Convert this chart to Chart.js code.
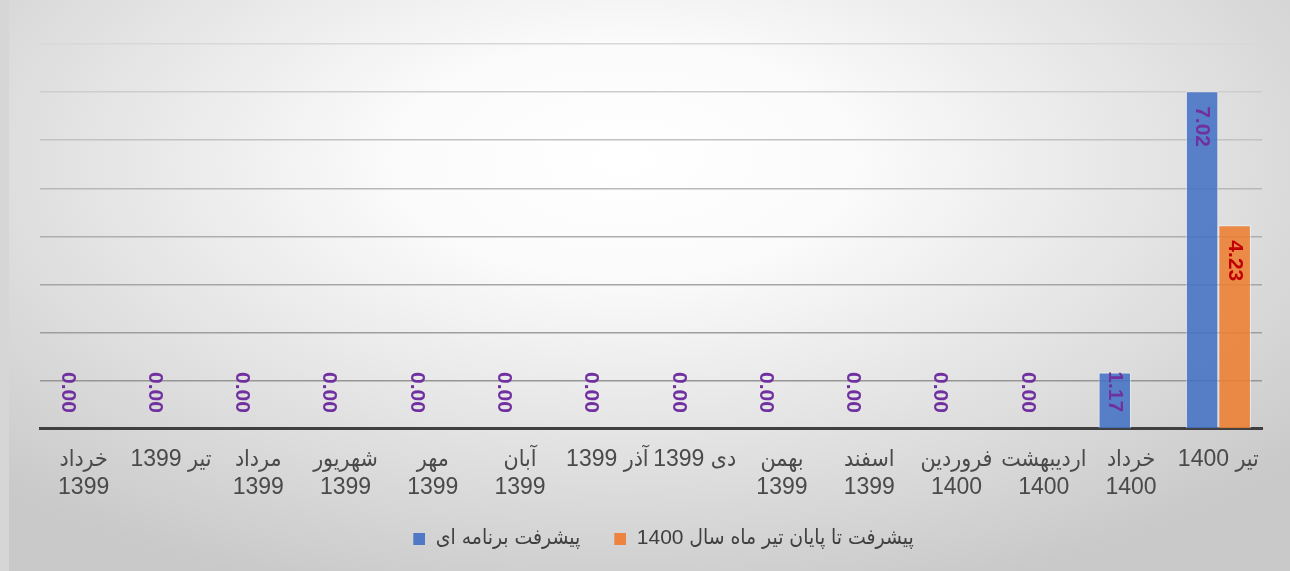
<!DOCTYPE html>
<html>
<head>
<meta charset="utf-8">
<script src="https://cdn.jsdelivr.net/npm/chart.js@4/dist/chart.umd.min.js"></script>
<style>
  html, body { margin: 0; padding: 0; background: #d6d6d6; }
  #box {
    position: absolute; left: 9px; top: 0; width: 1281px; height: 571px;
    background: radial-gradient(ellipse 70% 80% at 48% 28%, #ffffff 0%, #fbfbfb 25%, #e4e4e4 60%, #c9c9c9 100%);
  }
</style>
</head>
<body>
<div id="box"><canvas id="chart" dir="rtl" width="1281" height="571"></canvas></div>
<script>
const categories = [
  ['خرداد', '1399'], 'تیر 1399', ['مرداد', '1399'], ['شهریور', '1399'], ['مهر', '1399'],
  ['آبان', '1399'], 'آذر 1399', 'دی 1399', ['بهمن', '1399'], ['اسفند', '1399'],
  ['فروردین', '1400'], ['اردیبهشت', '1400'], ['خرداد', '1400'], 'تیر 1400'
];
const planned = [0, 0, 0, 0, 0, 0, 0, 0, 0, 0, 0, 0, 1.17, 7.02];
const actual = [null, null, null, null, null, null, null, null, null, null, null, null, null, 4.23];
const yTicks = [0, 1, 2, 3, 4, 5, 6, 7, 8];

const FONT = "'Liberation Sans', 'DejaVu Sans Condensed', 'DejaVu Sans', Arial, sans-serif";
const swatchColors = ['#4f78c6', '#ec8440'];

// legend square with empty room on its left, to widen the gap between items
function legendSwatch(color) {
  const c = document.createElement('canvas');
  c.width = 37;
  c.height = 12;
  const g = c.getContext('2d');
  g.fillStyle = color;
  g.fillRect(25, 0, 12, 12);
  return c;
}

// rotated value labels, drawn near the top of each bar
const valueLabels = {
  id: 'valueLabels',
  afterDatasetsDraw(chart) {
    const ctx = chart.ctx;
    chart.data.datasets.forEach((ds, i) => {
      const meta = chart.getDatasetMeta(i);
      meta.data.forEach((bar, j) => {
        const v = ds.data[j];
        if (v === null || v === undefined) return;
        const text = v.toFixed(2);
        ctx.save();
        ctx.font = 'bold 21px ' + FONT;
        const w = ctx.measureText(text).width;
        const top = Math.min(bar.y + 15, bar.base - 16 - w);
        ctx.translate(bar.x, top);
        ctx.rotate(Math.PI / 2);
        ctx.fillStyle = ds.labelColor;
        ctx.textAlign = 'left';
        ctx.textBaseline = 'middle';
        ctx.fillText(text, 0, 0);
        ctx.restore();
      });
    });
  }
};

const gridShade = ['#969696', '#969696', '#9e9e9e', '#a6a6a6', '#aeaeae', '#b8b8b8', '#c2c2c2', '#cdcdcd', '#d8d8d8'];

new Chart(document.getElementById('chart'), {
  type: 'bar',
  data: {
    labels: categories,
    datasets: [
      {
        label: 'پیشرفت برنامه ای',
        data: planned,
        backgroundColor: 'rgba(68,114,196,0.88)',
        borderColor: 'rgba(255,255,255,0.6)',
        borderWidth: 1,
        labelColor: '#7030A0'
      },
      {
        label: 'پیشرفت تا پایان تیر ماه سال 1400',
        data: actual,
        backgroundColor: 'rgba(237,125,49,0.88)',
        borderColor: 'rgba(255,255,255,0.6)',
        borderWidth: 1,
        labelColor: '#C00000'
      }
    ]
  },
  options: {
    responsive: false,
    animation: false,
    layout: { padding: { left: 31, right: 28, top: 44, bottom: 12 } },
    datasets: { bar: { categoryPercentage: 0.745, barPercentage: 1 } },
    scales: {
      x: {
        grid: { display: false, drawTicks: false },
        border: { color: '#404040', width: 3 },
        ticks: {
          color: '#4a4a4a',
          font: { family: FONT, size: 23, lineHeight: 1.22 },
          padding: 17,
          maxRotation: 0,
          autoSkip: false
        }
      },
      y: {
        min: 0,
        max: 8,
        afterBuildTicks: (axis) => { axis.ticks = yTicks.map(v => ({ value: v })); },
        ticks: { display: false },
        border: { display: false },
        grid: {
          drawTicks: false,
          lineWidth: 1.5,
          color: (c) => gridShade[c.tick ? c.tick.value : 0]
        }
      }
    },
    plugins: {
      legend: {
        position: 'bottom',
        labels: {
          color: '#404040',
          font: { family: FONT, size: 21 },
          boxWidth: 12,
          boxHeight: 12,
          usePointStyle: true,
          pointStyleWidth: 37,
          padding: 9,
          generateLabels: (chart) => {
            const items = Chart.defaults.plugins.legend.labels.generateLabels(chart);
            items.forEach((it, i) => { it.pointStyle = legendSwatch(swatchColors[i]); });
            return items;
          }
        }
      },
      tooltip: { enabled: false }
    }
  },
  plugins: [valueLabels]
});
</script>
</body>
</html>
